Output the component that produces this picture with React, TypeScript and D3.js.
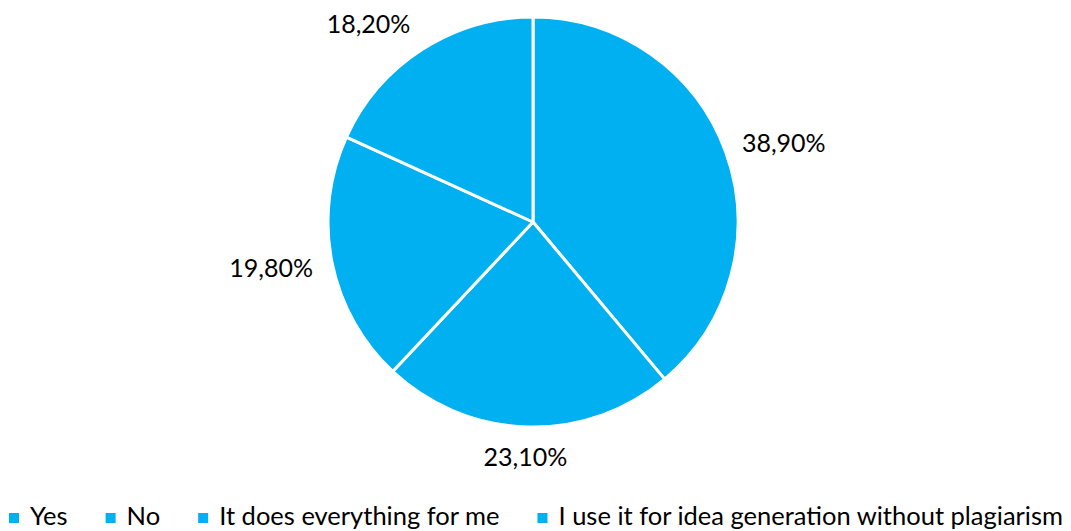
import React, { useEffect, useRef } from "react";
import * as d3 from "d3";

const categories = ["Yes", "No", "It does everything for me", "I use it for idea generation without plagiarism"];
const values = [38.9, 23.1, 19.8, 18.2];
const labels = ["38,90%", "23,10%", "19,80%", "18,20%"];

const W = 1071;
const H = 531;
const COLOR = "#00B0F0";
const FONT = "Lato, 'Open Sans', sans-serif";

export default function App() {
  const ref = useRef<SVGSVGElement | null>(null);

  useEffect(() => {
    const svg = d3.select(ref.current);
    svg.selectAll("*").remove();

    const cx = 533;
    const cy = 222;
    const R = 205;

    const pie = d3.pie<number>().sort(null).value((d) => d);
    const arcs = pie(values);
    const arc = d3.arc<d3.PieArcDatum<number>>().innerRadius(0).outerRadius(R);

    const g = svg.append("g").attr("transform", `translate(${cx},${cy})`);
    g.selectAll("path")
      .data(arcs)
      .join("path")
      .attr("d", arc as any)
      .attr("fill", COLOR)
      .attr("stroke", "#ffffff")
      .attr("stroke-width", 3)
      .attr("stroke-linejoin", "round");

    // labels outside end
    const gap = 20;
    const lab = g
      .selectAll("text.lab")
      .data(arcs)
      .join("text")
      .attr("class", "lab")
      .attr("font-family", FONT)
      .attr("font-size", 25)
      .attr("fill", "#000")
      .attr("text-anchor", "middle")
      .attr("dominant-baseline", "central")
      .text((_, i) => labels[i]);

    lab.each(function (d) {
      const el = this as SVGTextElement;
      const w = el.getComputedTextLength();
      const h = 18;
      const a = (d.startAngle + d.endAngle) / 2;
      const s = Math.sin(a);
      const c = Math.cos(a);
      let x = (R + gap) * s + (w / 2) * s;
      let y = -(R + gap) * c - (h / 2) * c;
      // near the top edge the label slides sideways (best fit)
      const topLimit = -cy + 30;
      if (y < topLimit) {
        const dy = topLimit - y;
        y = -cy + 23;
        x += (s < 0 ? -1 : 1) * dy * 4.2;
      }
      d3.select(el).attr("x", x).attr("y", y);
    });

    // legend
    const legend = svg.append("g");
    const items = legend.selectAll("g").data(categories).join("g");
    items
      .append("rect")
      .attr("width", 10)
      .attr("height", 10)
      .attr("y", 513)
      .attr("fill", COLOR);
    items
      .append("text")
      .attr("x", 21)
      .attr("y", 525)
      .attr("font-family", FONT)
      .attr("font-size", 25.5)
      .attr("fill", "#000")
      .text((d) => d);

    const widths: number[] = [];
    items.select("text").each(function () {
      widths.push((this as SVGTextElement).getComputedTextLength());
    });
    const spacing = 38;
    const total = widths.reduce((acc, w) => acc + 21 + w, 0) + spacing * (widths.length - 1);
    let x0 = 536 - total / 2;
    items.each(function (_, i) {
      d3.select(this).attr("transform", `translate(${x0},0)`);
      x0 += 21 + widths[i] + spacing;
    });
  }, []);

  return (
    <svg
      ref={ref}
      width={W}
      height={H}
      style={{ position: "absolute", left: 0, top: 0, background: "#fff" }}
    />
  );
}
